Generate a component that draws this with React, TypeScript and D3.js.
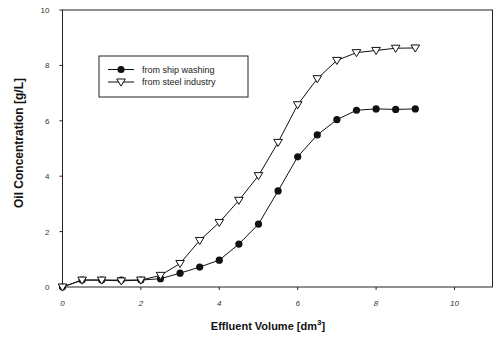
import React from "react";
import * as d3 from "d3";

const volumes = [0, 0.5, 1, 1.5, 2, 2.5, 3, 3.5, 4, 4.5, 5, 5.5, 6, 6.5, 7, 7.5, 8, 8.5, 9];
const shipWashing = [0, 0.25, 0.25, 0.25, 0.25, 0.3, 0.5, 0.72, 0.97, 1.55, 2.27, 3.47, 4.7, 5.49, 6.04, 6.38, 6.43, 6.41, 6.43];
const steelIndustry = [0, 0.25, 0.25, 0.22, 0.25, 0.42, 0.85, 1.68, 2.33, 3.13, 4.02, 5.22, 6.58, 7.52, 8.18, 8.46, 8.54, 8.62, 8.63];
const xTicks = [0, 2, 4, 6, 8, 10];
const yTicks = [0, 2, 4, 6, 8, 10];
const seriesNames = ["from ship washing", "from steel industry"];
const xTitle = "Effluent Volume [dm";
const yTitle = "Oil Concentration [g/L]";

export default function App() {
  const W = 493, H = 338;
  const L = 62.5, R = 492.5, T = 10, B = 287;
  const x = d3.scaleLinear().domain([0, 10.97]).range([L, R]);
  const y = d3.scaleLinear().domain([0, 10]).range([B, T]);
  const line = d3.line<number>().x((_, i) => x(volumes[i])).y((d) => y(d));
  const font = "'Liberation Sans', Arial, sans-serif";
  const tri = (cx: number, cy: number, s: number) =>
    `M${cx - s},${cy - s * 0.7}L${cx + s},${cy - s * 0.7}L${cx},${cy + s * 0.95}Z`;
  return (
    <svg width={W} height={H} style={{ position: "absolute", left: 0, top: 0, background: "#fff" }}>
      <rect x={L} y={T} width={R - L} height={B - T} fill="none" stroke="#222" strokeWidth={1} />
      {xTicks.map((t) => (
        <g key={"x" + t}>
          <line x1={x(t)} x2={x(t)} y1={B} y2={B + 3} stroke="#222" />
          <text x={x(t)} y={B + 19} fontSize={8} fontStyle="italic" textAnchor="middle" fontFamily={font} fill="#333">{t}</text>
        </g>
      ))}
      {yTicks.map((t) => (
        <g key={"y" + t}>
          <line x1={L - 3} x2={L} y1={y(t)} y2={y(t)} stroke="#222" />
          <text x={L - 13} y={y(t) + 3} fontSize={8} textAnchor="end" fontFamily={font} fill="#333">{t}</text>
        </g>
      ))}
      <path d={line(shipWashing) || ""} fill="none" stroke="#111" strokeWidth={1} />
      <path d={line(steelIndustry) || ""} fill="none" stroke="#111" strokeWidth={1} />
      {shipWashing.map((v, i) => (
        <circle key={"s" + i} cx={x(volumes[i])} cy={y(v)} r={3.6} fill="#111" />
      ))}
      {steelIndustry.map((v, i) => (
        <path key={"t" + i} d={tri(x(volumes[i]), y(v), 4.3)} fill="#fff" stroke="#111" strokeWidth={1} />
      ))}
      <g>
        <rect x={99} y={56} width={149} height={41} fill="#fff" stroke="#222" strokeWidth={1} />
        <line x1={108} x2={134} y1={69.5} y2={69.5} stroke="#111" />
        <circle cx={121} cy={69.5} r={3.6} fill="#111" />
        <text x={142} y={72.5} fontSize={9} fontFamily={font} fill="#222">{seriesNames[0]}</text>
        <line x1={108} x2={134} y1={82} y2={82} stroke="#111" />
        <path d={tri(121, 82, 4.3)} fill="#fff" stroke="#111" />
        <text x={142} y={85} fontSize={9} fontFamily={font} fill="#222">{seriesNames[1]}</text>
      </g>
      <text x={268} y={330} fontSize={11} fontWeight="bold" textAnchor="middle" fontFamily={font} fill="#111">
        {xTitle}
        <tspan fontSize={8} dy={-5}>3</tspan>
        <tspan dy={5}>]</tspan>
      </text>
      <text transform={`translate(23,143) rotate(-90)`} fontSize={12} fontWeight="bold" textAnchor="middle" fontFamily={font} fill="#111">
        {yTitle}
      </text>
    </svg>
  );
}
